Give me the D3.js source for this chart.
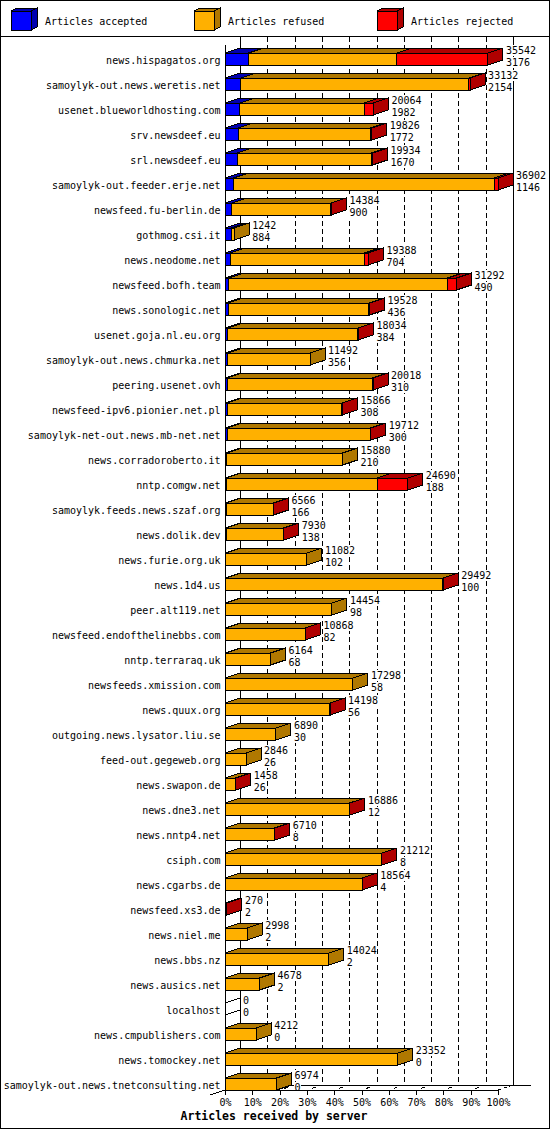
<!DOCTYPE html>
<html>
<head>
<meta charset="utf-8">
<script src="https://cdn.jsdelivr.net/npm/d3@7"></script>
<style>
  body { margin: 0; background: #fff; }
  text { font-family: "DejaVu Sans Mono", monospace; font-size: 10px; fill: #000; }
</style>
</head>
<body>
<div id="chart"></div>
<script>
// Servers in the order they are listed on the chart
const servers = [
  "news.hispagatos.org", "samoylyk-out.news.weretis.net", "usenet.blueworldhosting.com",
  "srv.newsdeef.eu", "srl.newsdeef.eu", "samoylyk-out.feeder.erje.net", "newsfeed.fu-berlin.de",
  "gothmog.csi.it", "news.neodome.net", "newsfeed.bofh.team", "news.sonologic.net",
  "usenet.goja.nl.eu.org", "samoylyk-out.news.chmurka.net", "peering.usenet.ovh",
  "newsfeed-ipv6.pionier.net.pl", "samoylyk-net-out.news.mb-net.net", "news.corradoroberto.it",
  "nntp.comgw.net", "samoylyk.feeds.news.szaf.org", "news.dolik.dev", "news.furie.org.uk",
  "news.1d4.us", "peer.alt119.net", "newsfeed.endofthelinebbs.com", "nntp.terraraq.uk",
  "newsfeeds.xmission.com", "news.quux.org", "outgoing.news.lysator.liu.se", "feed-out.gegeweb.org",
  "news.swapon.de", "news.dne3.net", "news.nntp4.net", "csiph.com", "news.cgarbs.de",
  "newsfeed.xs3.de", "news.niel.me", "news.bbs.nz", "news.ausics.net", "localhost",
  "news.cmpublishers.com", "news.tomockey.net", "samoylyk-out.news.tnetconsulting.net"
];

const accepted = [3176, 2154, 1982, 1772, 1670, 1146, 900, 884, 704, 490, 436, 384, 356, 310,
  308, 300, 210, 188, 166, 138, 102, 100, 98, 82, 68, 58, 56, 30, 26, 26, 12, 8, 8, 4, 2, 2, 2, 2,
  0, 0, 0, 0];

const refused = [20066, 30828, 16822, 17904, 18114, 35216, 13424, 358, 18144, 29582, 19012,
  17570, 11136, 19628, 15478, 19332, 15670, 20402, 6360, 7752, 10980, 29332, 14356, 10746, 6096,
  17240, 14102, 6860, 2820, 1392, 16834, 6672, 21174, 18530, 18, 2996, 14022, 4676, 0, 4212,
  23352, 6974];

const rejected = [12300, 150, 1260, 150, 150, 540, 60, 0, 540, 1220, 80, 80, 0, 80, 80, 80, 0,
  4100, 40, 40, 0, 60, 0, 40, 0, 0, 40, 0, 0, 40, 40, 30, 30, 30, 250, 0, 0, 0, 0, 0, 0, 0];

const seriesNames = ["Articles accepted", "Articles refused", "Articles rejected"];
const frontColors = ["#0000ff", "#ffb000", "#ff0000"];
const darkColors = ["#0000b0", "#b07800", "#b00000"];
const tickPct = [0, 10, 20, 30, 40, 50, 60, 70, 80, 90, 100];

const W = 550, H = 1130;
const DX = 15, DY = 5;          // depth of the 3d bars
const floorY = 1090;
const CHAR_W = 6.02;            // DejaVu Sans Mono @ 10px

const rows = servers.map((name, i) => ({
  name, accepted: accepted[i], refused: refused[i], rejected: rejected[i],
  total: accepted[i] + refused[i] + rejected[i]
}));
const maxTotal = d3.max(rows, d => d.total);

const svg = d3.select("#chart").append("svg")
  .attr("width", W).attr("height", H)
  .style("shape-rendering", "crispEdges");

const x = d3.scaleLinear().domain([0, 100]).range([225, 498]);
const xv = v => x(v / maxTotal * 100);
const y = d3.scaleBand().domain(servers)
  .range([46.5, 1096.5]).paddingInner(0.52).paddingOuter(0.26);
const bh = y.bandwidth();

// frame and legend separator
svg.append("rect").attr("x", 0.5).attr("y", 0.5).attr("width", W - 1).attr("height", H - 2)
  .attr("fill", "none").attr("stroke", "#000");
svg.append("line").attr("x1", 0).attr("x2", W).attr("y1", 36.5).attr("y2", 36.5).attr("stroke", "#000");

// legend
const legend = svg.append("g").selectAll("g")
  .data(seriesNames).enter().append("g")
  .attr("transform", (d, i) => `translate(${11 + i * 183},11)`);
legend.append("polygon")
  .attr("points", "0,0 20,0 26,-3 6,-3")
  .attr("fill", (d, i) => darkColors[i]).attr("stroke", "#000");
legend.append("polygon")
  .attr("points", "20,0 26,-3 26,16 20,19")
  .attr("fill", (d, i) => darkColors[i]).attr("stroke", "#000");
legend.append("rect").attr("width", 20).attr("height", 19)
  .attr("fill", (d, i) => frontColors[i]).attr("stroke", "#000");
legend.append("text").attr("x", 34).attr("y", 14).text(d => d);

// back wall: dashed grid lines
const grid = svg.append("g");
grid.selectAll("line.grid")
  .data(tickPct.slice(1, -1)).enter().append("line")
  .attr("class", "grid")
  .attr("x1", d => Math.round(x(d) + DX) + 0.5).attr("x2", d => Math.round(x(d) + DX) + 0.5)
  .attr("y1", 37).attr("y2", floorY - DY)
  .attr("stroke", "#000").attr("stroke-dasharray", "5,3");
grid.selectAll("line.wall")
  .data([0, 100]).enter().append("line")
  .attr("class", "wall")
  .attr("x1", d => x(d) + DX + 0.5).attr("x2", d => x(d) + DX + 0.5)
  .attr("y1", 37).attr("y2", floorY - DY)
  .attr("stroke", "#000");

// floor lines
grid.append("line").attr("x1", x(0) + DX).attr("x2", x(100) + DX + 18)
  .attr("y1", floorY - DY + 0.5).attr("y2", floorY - DY + 0.5).attr("stroke", "#000");
grid.append("line").attr("x1", x(0) - DX).attr("y1", floorY + DY)
  .attr("x2", x(0) + DX).attr("y2", floorY - DY).attr("stroke", "#000");
grid.selectAll("line.floor")
  .data(tickPct.slice(1)).enter().append("line")
  .attr("class", "floor")
  .attr("x1", d => x(d)).attr("y1", floorY)
  .attr("x2", d => x(d) + DX).attr("y2", floorY - DY)
  .attr("stroke", "#000").attr("stroke-dasharray", d => d === 100 ? "3,3" : "0,5,4,20");

// front left axis line
svg.append("line").attr("x1", x(0) + 0.5).attr("x2", x(0) + 0.5)
  .attr("y1", 45).attr("y2", floorY).attr("stroke", "#000");

// stacked 3d bars
const stack = d3.stack().keys(["accepted", "refused", "rejected"]);
const series = stack(rows);

const bars = svg.append("g").selectAll("g")
  .data(rows).enter().append("g");

bars.each(function(d, i) {
  const g = d3.select(this);
  const y0 = y(d.name), y1 = y0 + bh;
  if (d.total === 0) {
    g.append("line").attr("x1", x(0)).attr("y1", y0).attr("x2", x(0) + DX).attr("y2", y0 - DY).attr("stroke", "#000");
    g.append("line").attr("x1", x(0)).attr("y1", y1).attr("x2", x(0) + DX).attr("y2", y1 - DY).attr("stroke", "#000");
    return;
  }
  let last = 0;
  series.forEach((s, j) => {
    const [a, b] = s[i];
    if (b - a <= 0) return;
    last = j;
    const x0 = xv(a), x1 = xv(b);
    g.append("polygon")
      .attr("points", [[x0, y0], [x1, y0], [x1 + DX, y0 - DY], [x0 + DX, y0 - DY]].join(" "))
      .attr("fill", darkColors[j]).attr("stroke", "#000");
    g.append("rect")
      .attr("x", x0).attr("y", y0).attr("width", x1 - x0).attr("height", bh)
      .attr("fill", frontColors[j]).attr("stroke", "#000");
  });
  const xe = xv(d.total);
  g.append("polygon")
    .attr("points", [[xe, y0], [xe + DX, y0 - DY], [xe + DX, y1 - DY], [xe, y1]].join(" "))
    .attr("fill", darkColors[last]).attr("stroke", "#000");
});

// value labels: total and accepted, on a white ground that hides the grid
bars.each(function(d) {
  const g = d3.select(this);
  const lx = xv(d.total) + DX + 3;
  [[d.total, y(d.name) + 0.5], [d.accepted, y(d.name) + bh + 0.5]].forEach(([v, by]) => {
    g.append("rect").attr("x", lx - 0.5).attr("y", by - 8.5)
      .attr("width", String(v).length * CHAR_W + 1).attr("height", 11).attr("fill", "#fff");
    g.append("text").attr("x", lx).attr("y", by).text(v);
  });
});

// server names
svg.append("g").selectAll("text")
  .data(servers).enter().append("text")
  .attr("x", 220.5).attr("y", d => y(d) + 10.5)
  .attr("text-anchor", "end").text(d => d);

// bottom axis
const axis = svg.append("g").attr("transform", `translate(0,${floorY})`)
  .call(d3.axisBottom(x).tickValues(tickPct).tickFormat(d => d + "%").tickSize(5).tickSizeOuter(0));
axis.selectAll("path, line").attr("stroke", "#000");
axis.selectAll("text").attr("font-family", null).attr("font-size", null)
  .attr("y", 16).attr("dy", null).attr("fill", "#000");
axis.attr("font-family", null).attr("font-size", null);

svg.append("text").attr("x", 274).attr("y", 1120).attr("text-anchor", "middle")
  .style("font-size", "11.5px").style("font-weight", "bold")
  .text("Articles received by server");
</script>
</body>
</html>
